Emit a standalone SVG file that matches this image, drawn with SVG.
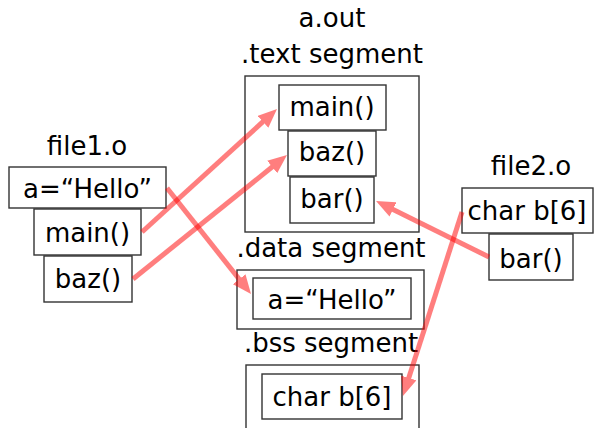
<svg xmlns="http://www.w3.org/2000/svg" width="599" height="428" viewBox="0 0 599 428">
<style>
text{font-family:"DejaVu Sans","Liberation Sans",sans-serif;font-size:26px;fill:#000;text-anchor:middle}
rect{fill:#fff;stroke:#333;stroke-width:1.4}
.arrow{opacity:0.5}
.arrow line{stroke:#ff0000;stroke-width:5;fill:none}
</style>
<defs>
<marker id="ah" markerUnits="userSpaceOnUse" markerWidth="19" markerHeight="16" refX="9" refY="8" orient="auto">
<path d="M0,0 L19,8 L0,16 z" fill="#ff0000"/>
</marker>
</defs>
<g id="aout">
<text x="332" y="27">a.out</text>
<text x="332" y="63">.text segment</text>
<rect x="245" y="76" width="174" height="156"/>
<g id="aout-main"><rect x="279" y="85" width="107" height="45"/><text x="332" y="116">main()</text></g>
<g id="aout-baz"><rect x="288" y="131" width="88" height="45"/><text x="332" y="161">baz()</text></g>
<g id="aout-bar"><rect x="290" y="177" width="84" height="46"/><text x="332" y="208">bar()</text></g>
<text x="331" y="257">.data segment</text>
<rect x="237" y="270" width="187" height="59"/>
<g id="aout-a"><rect x="253" y="278" width="158" height="41"/><text x="332" y="309">a=“Hello”</text></g>
<text x="331" y="352">.bss segment</text>
<rect x="246" y="365" width="173" height="80"/>
<g id="aout-b"><rect x="262" y="374" width="140" height="45"/><text x="332" y="406">char b[6]</text></g>
</g>
<g id="file1">
<text x="87" y="155">file1.o</text>
<g id="file1-a"><rect x="9" y="167" width="157" height="41"/><text x="87.5" y="198">a=“Hello”</text></g>
<g id="file1-main"><rect x="34" y="209" width="107" height="46"/><text x="87.5" y="242">main()</text></g>
<g id="file1-baz"><rect x="44" y="256" width="88" height="46"/><text x="88" y="288">baz()</text></g>
</g>
<g id="file2">
<text x="531" y="175">file2.o</text>
<g id="file2-b"><rect x="462" y="188" width="131" height="45"/><text x="527" y="220">char b[6]</text></g>
<g id="file2-bar"><rect x="489" y="234" width="84" height="46"/><text x="531" y="268">bar()</text></g>
</g>
<g id="connectors">
<g class="arrow"><line x1="142" y1="232" x2="269.6" y2="115.7" marker-end="url(#ah)"/></g>
<g class="arrow"><line x1="133" y1="279" x2="279.2" y2="161.3" marker-end="url(#ah)"/></g>
<g class="arrow"><line x1="167" y1="188" x2="244.8" y2="286.2" marker-end="url(#ah)"/></g>
<g class="arrow"><line x1="489" y1="257" x2="385" y2="205.4" marker-end="url(#ah)"/></g>
<g class="arrow"><line x1="462" y1="212" x2="406" y2="386.5" marker-end="url(#ah)"/></g>
</g>
</svg>
